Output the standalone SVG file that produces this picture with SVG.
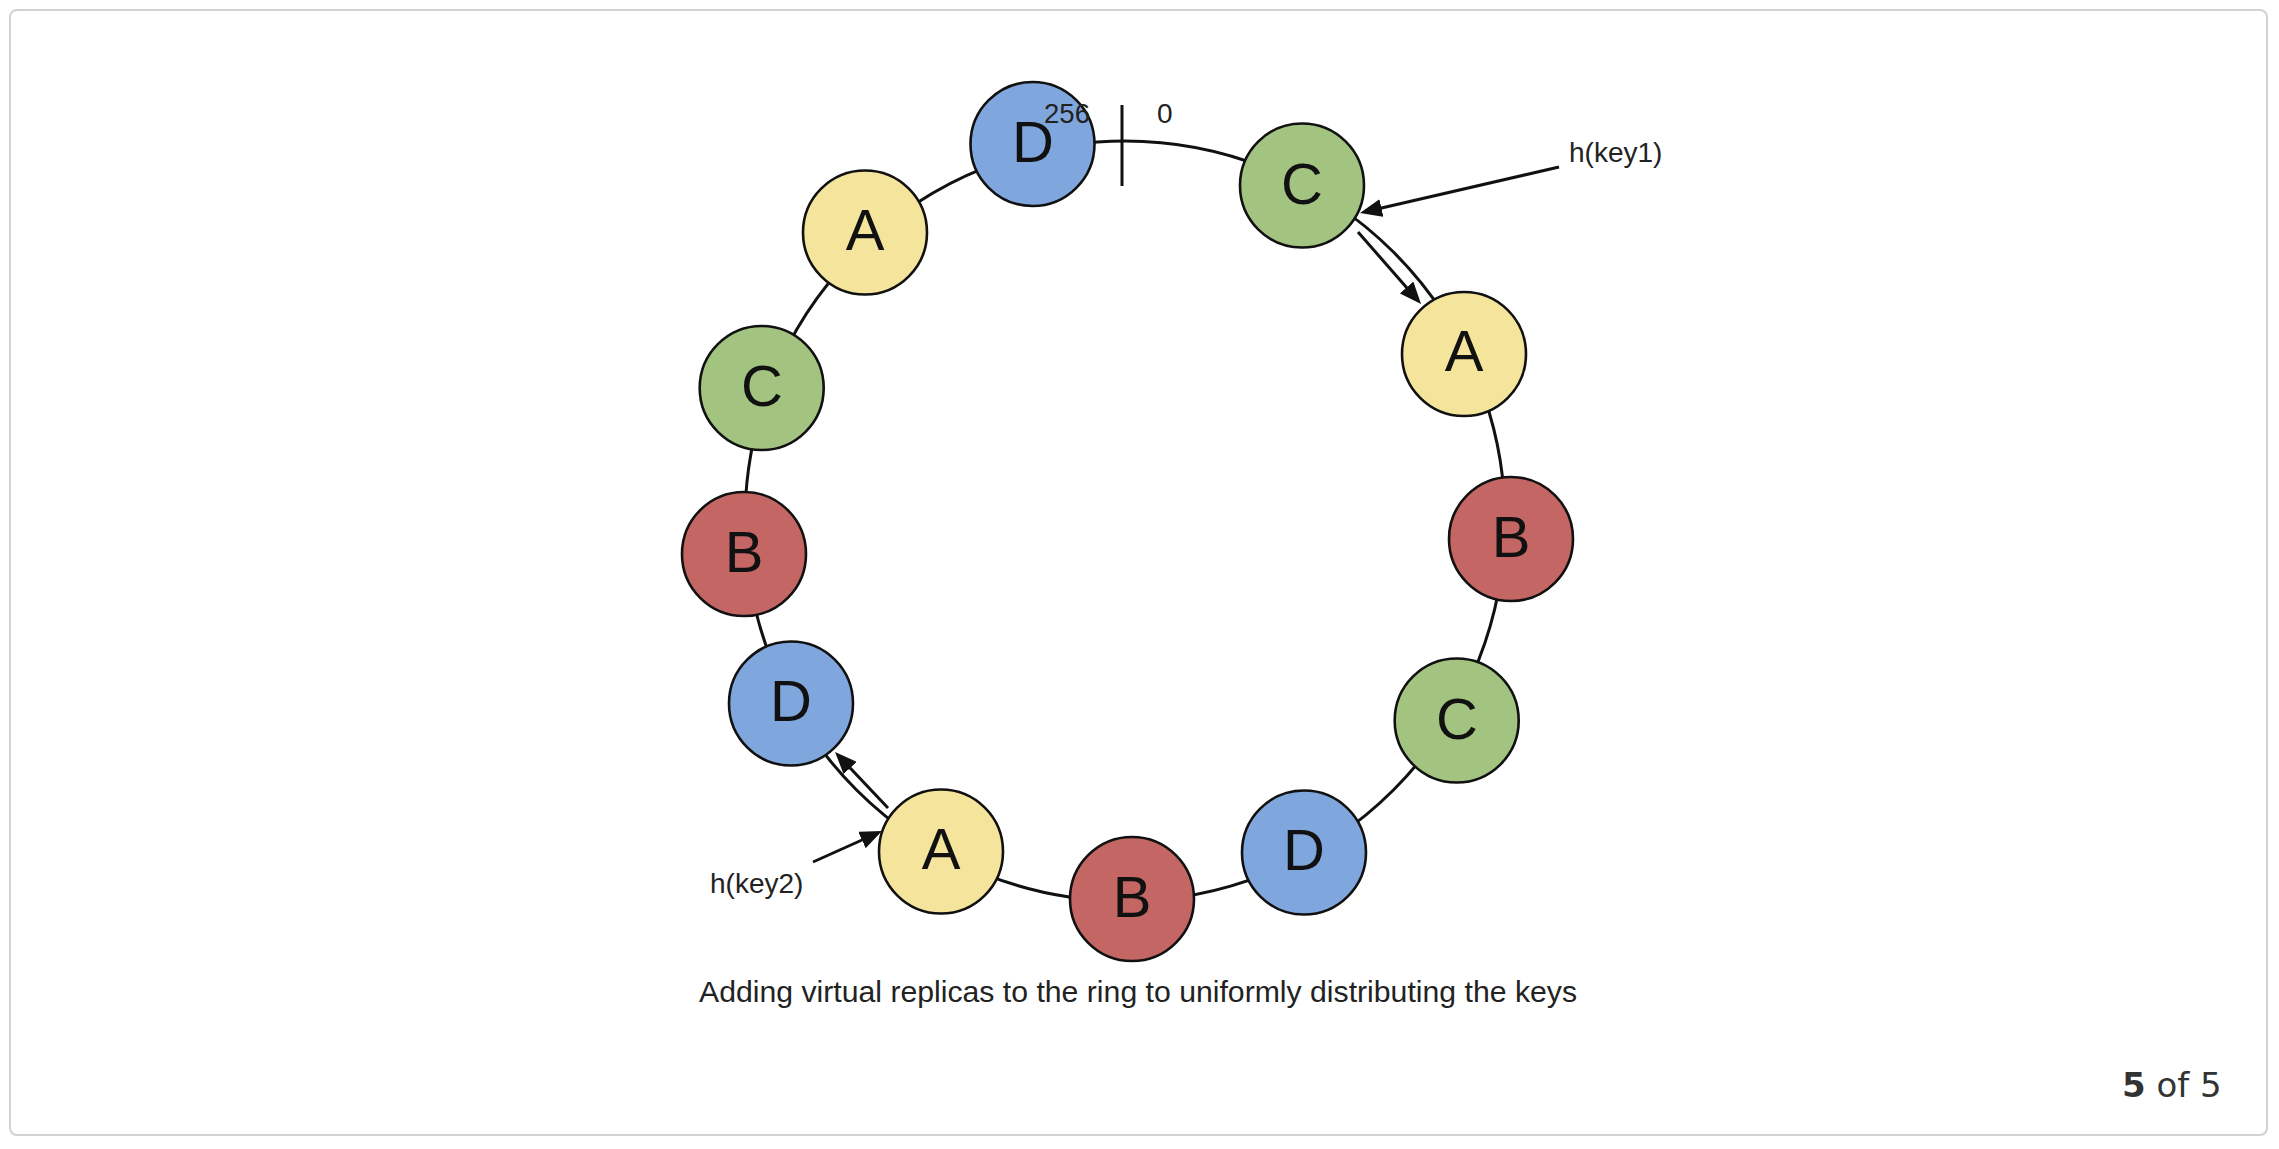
<svg xmlns="http://www.w3.org/2000/svg" width="2279" height="1149" viewBox="0 0 2279 1149">
  <style>
    .frame { fill: #ffffff; stroke: #d2d2d4; stroke-width: 2; }
    .node circle { stroke: #111111; stroke-width: 2.6; }
    .node text { font-family: "Liberation Sans", Arial, Helvetica, sans-serif; font-size: 58px; fill: #111111; text-anchor: middle; }
    .a circle { fill: #F5E49C; }
    .b circle { fill: #C46663; }
    .c circle { fill: #A3C480; }
    .d circle { fill: #80A7DD; }
    .ring { fill: none; stroke: #111111; stroke-width: 3; }
    .line { fill: none; stroke: #111111; stroke-width: 3; }
    .label { font-family: "Liberation Sans", Arial, Helvetica, sans-serif; font-size: 28px; fill: #222222; }
    .caption { font-family: "Liberation Sans", Arial, Helvetica, sans-serif; font-size: 30px; fill: #222222; }
    .pager { font-family: "DejaVu Sans", Verdana, sans-serif; font-size: 34px; fill: #333333; }
  </style>
  <defs>
    <marker id="arrow" viewBox="0 0 22 18" markerWidth="22" markerHeight="18" refX="11" refY="9" orient="auto" markerUnits="userSpaceOnUse">
      <path d="M0,0 L22,9 L0,18 Z" fill="#111111"/>
    </marker>
  </defs>

  <rect class="frame" x="10" y="10" width="2257" height="1125" rx="7" ry="7"/>

  <g id="connectors">
    <circle class="ring" cx="1125" cy="521" r="380"/>
    <line class="line" x1="1122" y1="105" x2="1122" y2="186"/>
    <line class="line" x1="1358" y1="232" x2="1413.8" y2="295.8" marker-end="url(#arrow)"/>
    <line class="line" x1="888" y1="808" x2="842.6" y2="760" marker-end="url(#arrow)"/>
    <line class="line" x1="1559" y1="167" x2="1370.7" y2="210.5" marker-end="url(#arrow)"/>
    <line class="line" x1="813" y1="862" x2="872" y2="835.5" marker-end="url(#arrow)"/>
  </g>

  <g id="node-d-top" class="node d"><circle cx="1032.5" cy="144" r="62"/><text x="1033" y="162">D</text></g>
  <g id="node-c-top" class="node c"><circle cx="1302" cy="185.5" r="62"/><text x="1302" y="204">C</text></g>
  <g id="node-a-right" class="node a"><circle cx="1464" cy="354" r="62"/><text x="1464" y="371">A</text></g>
  <g id="node-b-right" class="node b"><circle cx="1511" cy="539" r="62"/><text x="1511" y="557">B</text></g>
  <g id="node-c-right" class="node c"><circle cx="1456.7" cy="720.5" r="62"/><text x="1457" y="739">C</text></g>
  <g id="node-d-bottom-right" class="node d"><circle cx="1304" cy="852.5" r="62"/><text x="1304" y="870">D</text></g>
  <g id="node-b-bottom" class="node b"><circle cx="1132" cy="899" r="62"/><text x="1132" y="917">B</text></g>
  <g id="node-a-bottom-left" class="node a"><circle cx="941" cy="851.5" r="62"/><text x="941" y="869">A</text></g>
  <g id="node-d-left" class="node d"><circle cx="791" cy="703.5" r="62"/><text x="791" y="721">D</text></g>
  <g id="node-b-left" class="node b"><circle cx="744" cy="554" r="62"/><text x="744" y="572">B</text></g>
  <g id="node-c-left" class="node c"><circle cx="761.7" cy="388" r="62"/><text x="762" y="406">C</text></g>
  <g id="node-a-top-left" class="node a"><circle cx="865" cy="232.5" r="62"/><text x="865" y="250">A</text></g>

  <g id="labels">
    <text class="label" x="1044" y="122.5" textLength="46" lengthAdjust="spacingAndGlyphs">256</text>
    <text class="label" x="1157" y="122.5">0</text>
    <text class="label" x="1569" y="162">h(key1)</text>
    <text class="label" x="710" y="893">h(key2)</text>
    <text class="caption" x="699" y="1002" textLength="878" lengthAdjust="spacingAndGlyphs">Adding virtual replicas to the ring to uniformly distributing the keys</text>
    <text class="pager" x="2122" y="1097"><tspan font-weight="bold">5</tspan> of 5</text>
  </g>
</svg>
